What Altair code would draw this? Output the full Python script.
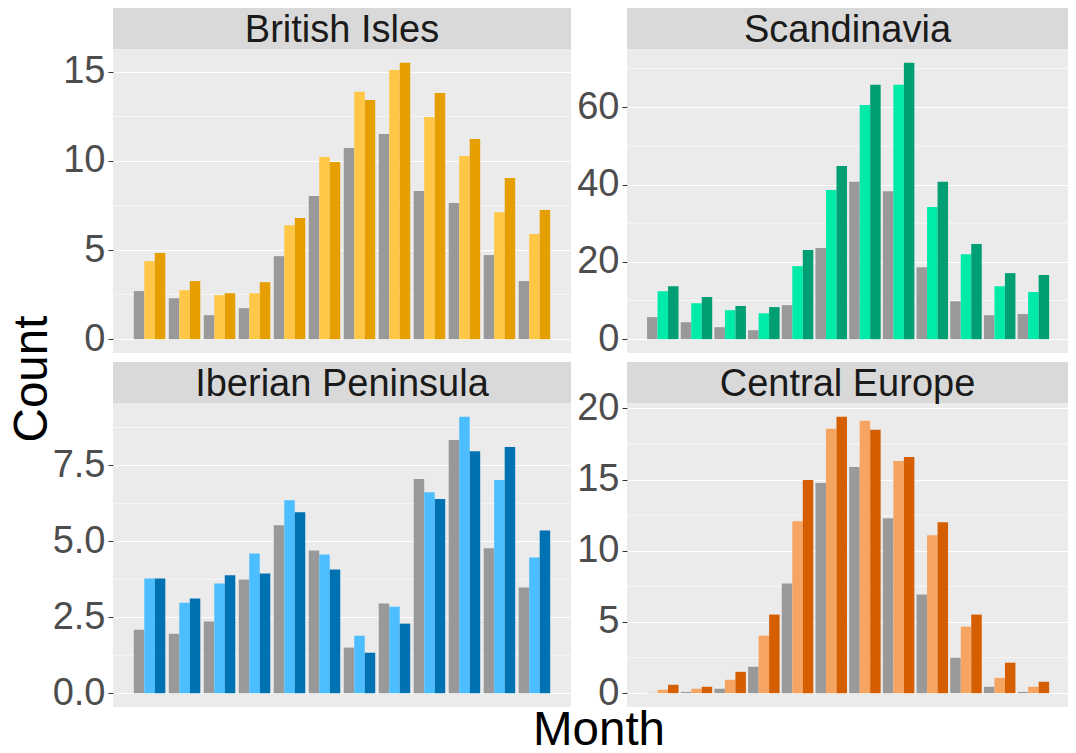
import altair as alt
import pandas as pd

months = list(range(1, 13))
series = ["Series 1", "Series 2", "Series 3"]

regions = ["British Isles", "Scandinavia", "Iberian Peninsula", "Central Europe"]

british_grey = [2.70, 2.30, 1.35, 1.74, 4.66, 8.03, 10.73, 11.52, 8.31, 7.64, 4.72, 3.26]
british_light = [4.38, 2.75, 2.47, 2.58, 6.40, 10.22, 13.88, 15.11, 12.47, 10.28, 7.13, 5.90]
british_dark = [4.83, 3.26, 2.58, 3.20, 6.80, 9.94, 13.43, 15.51, 13.82, 11.24, 9.04, 7.25]

scand_grey = [5.7, 4.4, 3.1, 2.3, 8.8, 23.6, 40.7, 38.3, 18.6, 9.8, 6.2, 6.5]
scand_light = [12.4, 9.3, 7.5, 6.7, 18.9, 38.6, 60.6, 65.8, 34.2, 22.0, 13.7, 12.2]
scand_dark = [13.7, 10.9, 8.6, 8.3, 23.1, 44.8, 65.8, 71.5, 40.7, 24.6, 17.1, 16.6]

iber_grey = [2.09, 1.96, 2.36, 3.74, 5.53, 4.70, 1.50, 2.95, 7.05, 8.34, 4.77, 3.48]
iber_light = [3.78, 2.98, 3.61, 4.60, 6.35, 4.57, 1.89, 2.85, 6.62, 9.10, 7.02, 4.47]
iber_dark = [3.78, 3.12, 3.88, 3.94, 5.96, 4.07, 1.33, 2.29, 6.39, 7.97, 8.11, 5.36]

cent_grey = [0.02, 0.09, 0.31, 1.86, 7.71, 14.76, 15.89, 12.29, 6.93, 2.49, 0.45, 0.09]
cent_light = [0.24, 0.31, 0.94, 4.04, 12.08, 18.57, 19.13, 16.31, 11.09, 4.68, 1.08, 0.45]
cent_dark = [0.59, 0.45, 1.50, 5.52, 14.97, 19.41, 18.50, 16.59, 12.01, 5.52, 2.14, 0.80]

grey_color = "#999999"
british_colors = ["#FFC745", "#E69F00"]
scand_colors = ["#00EBAA", "#009E73"]
iber_colors = ["#4CBEFF", "#0072B2"]
cent_colors = ["#F5A462", "#D55E00"]

british_ticks = [0, 5, 10, 15]
scand_ticks = [0, 20, 40, 60]
iber_ticks = [0, 2.5, 5.0, 7.5]
cent_ticks = [0, 5, 10, 15, 20]

FONT = "Liberation Sans"
W_LEFT, W_RIGHT, H = 458, 441, 304
STRIP_H = 41
GAP_COL, GAP_ROW = 56, 50
LEFT_PAD, TOTAL_W, TOTAL_H = 105, 1060, 737


def panel(name, grey, light, dark, colors, ticks, fmt, W, extra=None):
    df = pd.DataFrame({
        "month": months * 3,
        "series": [series[0]] * 12 + [series[1]] * 12 + [series[2]] * 12,
        "count": grey + light + dark,
        "color": [grey_color] * 12 + [colors[0]] * 12 + [colors[1]] * 12,
    })
    m = max(grey + light + dark)
    dom = [-0.05 * m, 1.05 * m]
    yscale = alt.Scale(domain=dom, nice=False, zero=False)
    step = ticks[1] - ticks[0]
    minor = [t + step / 2 for t in [ticks[0] - step] + ticks
             if dom[0] <= t + step / 2 <= dom[1]]

    yaxis = alt.Axis(values=ticks, format=fmt, grid=True, domain=False,
                     tickColor="#333333", tickSize=5, tickWidth=1,
                     labelFontSize=38, labelColor="#4D4D4D", labelFont=FONT,
                     labelPadding=3, gridColor="white", gridWidth=1.2)

    rules = alt.Chart(pd.DataFrame({"v": minor})).mark_rule(
        color="white", strokeWidth=0.6
    ).encode(y=alt.Y("v:Q", scale=yscale, axis=yaxis, title=None))

    bars = alt.Chart(df).mark_bar().encode(
        x=alt.X("month:O", scale=alt.Scale(paddingInner=0.1, paddingOuter=0.595),
                axis=None, sort=months),
        xOffset=alt.XOffset("series:N", scale=alt.Scale(paddingInner=0, paddingOuter=0),
                            sort=series),
        y=alt.Y("count:Q", scale=yscale, title=None, axis=yaxis),
        color=alt.Color("color:N", scale=None),
    )

    tdf = pd.DataFrame({"t": [name]})
    strip = alt.Chart(tdf).mark_rect(color="#D9D9D9").encode(
        x=alt.value(0), x2=alt.value(W), y=alt.value(-STRIP_H), y2=alt.value(0))
    label = alt.Chart(tdf).mark_text(
        fontSize=38, color="#1A1A1A", font=FONT, baseline="alphabetic", align="center"
    ).encode(x=alt.value(W / 2), y=alt.value(-7), text="t:N")

    layers = [rules, bars, strip, label]
    if extra:
        layers += extra
    return alt.layer(*layers).properties(width=W, height=H)


# shared axis titles drawn as text in the top-left panel's coordinate frame
count_title = alt.Chart(pd.DataFrame({"t": ["Count"]})).mark_text(
    fontSize=47.5, color="black", font=FONT, baseline="alphabetic", align="center", angle=270
).encode(x=alt.value(-66), y=alt.value(330), text="t:N")
month_title = alt.Chart(pd.DataFrame({"t": ["Month"]})).mark_text(
    fontSize=47.5, color="black", font=FONT, baseline="alphabetic", align="center"
).encode(x=alt.value(486), y=alt.value(696), text="t:N")

A = panel(regions[0], british_grey, british_light, british_dark, british_colors,
          british_ticks, "d", W_LEFT, extra=[count_title, month_title])
B = panel(regions[1], scand_grey, scand_light, scand_dark, scand_colors,
          scand_ticks, "d", W_RIGHT)
C = panel(regions[2], iber_grey, iber_light, iber_dark, iber_colors,
          iber_ticks, ".1f", W_LEFT)
D = panel(regions[3], cent_grey, cent_light, cent_dark, cent_colors,
          cent_ticks, "d", W_RIGHT)

chart = alt.concat(A, B, C, D, columns=2, spacing={"row": GAP_ROW, "column": GAP_COL},
                   bounds="flush").properties(
    autosize=alt.AutoSizeParams(type="none"),
    padding={"left": LEFT_PAD, "top": STRIP_H,
             "right": TOTAL_W - LEFT_PAD, "bottom": TOTAL_H - STRIP_H},
    background="white",
).configure_view(fill="#EBEBEB", stroke=None)

chart.save("out.html", embed_options={"renderer": "svg", "actions": False})
